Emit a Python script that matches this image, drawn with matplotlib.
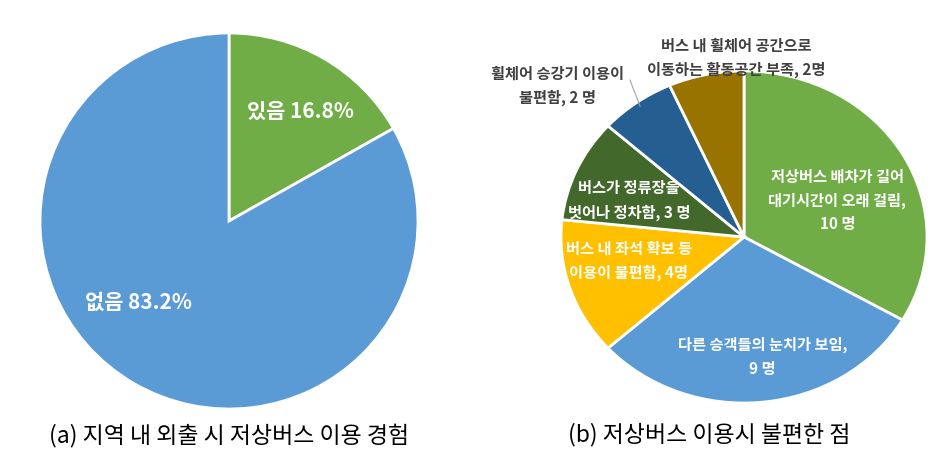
import matplotlib
matplotlib.use("Agg")
import matplotlib.pyplot as plt

plt.rcParams['font.family'] = ['Noto Sans CJK KR', 'DejaVu Sans']

# (a) experience of using low-floor buses
exp_labels = ["있음", "없음"]
exp_values = [16.8, 83.2]
exp_colors = ["#70AD47", "#5B9BD5"]

# (b) inconvenience points (number of people)
inc_labels = [
    "저상버스 배차가 길어\n대기시간이 오래 걸림,\n10 명",
    "다른 승객들의 눈치가 보임,\n9 명",
    "버스 내 좌석 확보 등\n이용이 불편함, 4명",
    "버스가 정류장을\n벗어나 정차함, 3 명",
    "휠체어 승강기 이용이\n불편함, 2 명",
    "버스 내 휠체어 공간으로\n이동하는 활동공간 부족, 2명",
]
inc_values = [10, 9, 4, 3, 2, 2]
inc_colors = ["#70AD47", "#5B9BD5", "#FFC000", "#43682B", "#255E91", "#997300"]

W, H = 950, 458
fig = plt.figure(figsize=(W / 100, H / 100), dpi=100)


def pie_axes(cx, cy, rx, ry, lim=1.05):
    # axes placed so that a unit radius pie lands on the given pixel box
    left = (cx - lim * rx) / W
    bottom = 1 - (cy + lim * ry) / H
    ax = fig.add_axes([left, bottom, 2 * lim * rx / W, 2 * lim * ry / H])
    return ax


# left pie
ax1 = pie_axes(229, 221, 189, 188)
ax1.pie(exp_values, colors=exp_colors, startangle=90, counterclock=False,
        wedgeprops=dict(edgecolor="white", linewidth=2))
ax1.set_aspect("auto")
ax1.set_xlim(-1.05, 1.05)
ax1.set_ylim(-1.05, 1.05)
left_pos = [(0.376, 0.585), (-0.48, -0.43)]
for lab, val, (x, y) in zip(exp_labels, exp_values, left_pos):
    ax1.text(x, y, f"{lab} {val}%", color="white", fontsize=15,
             fontweight="bold", ha="center", va="center")

# right pie
ax2 = pie_axes(744, 237, 183, 166)
ax2.pie(inc_values, colors=inc_colors, startangle=90, counterclock=False,
        wedgeprops=dict(edgecolor="white", linewidth=2))
ax2.set_aspect("auto")
ax2.set_xlim(-1.05, 1.05)
ax2.set_ylim(-1.05, 1.05)
right_pos = [(0.51, 0.22), (0.10, -0.72), (-0.63, -0.145), (-0.63, 0.22),
             (-1.02, 0.91), (-0.04, 1.08)]
right_col = ["white", "white", "white", "white", "#404040", "#404040"]
for lab, (x, y), c in zip(inc_labels, right_pos, right_col):
    ax2.text(x, y, lab, color=c, fontsize=11, fontweight="bold",
             ha="center", va="center", linespacing=1.6)
ax2.plot([-0.623, -0.568], [0.945, 0.789], color="#A6A6A6", lw=0.8,
         clip_on=False)

# captions
fig.text(229 / W, 1 - 435 / H, "(a) 지역 내 외출 시 저상버스 이용 경험",
         fontsize=16.5, ha="center", va="center")
fig.text(709 / W, 1 - 435 / H, "(b) 저상버스 이용시 불편한 점",
         fontsize=16.5, ha="center", va="center")

fig.savefig("out.png", dpi=100, facecolor="white")
